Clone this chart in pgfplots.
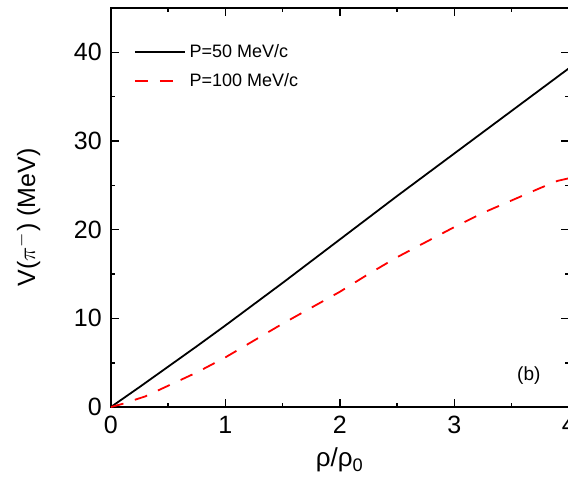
\documentclass[border=0pt]{standalone}
\usepackage{fontspec}
\setmainfont{Liberation Sans}
\usepackage{pgfplots}
\pgfplotsset{compat=1.18}
\begin{document}
\begin{tikzpicture}
\begin{axis}[
  scale only axis,
  width=229pt, height=199.5pt,
  xmin=0, xmax=4, ymin=0, ymax=45,
  xtick={0,1,2,3,4}, ytick={0,10,20,30,40},
  minor x tick num=1, minor y tick num=1,
  tick align=inside,
  major tick length=4pt, minor tick length=2pt,
  axis line style={line width=1pt},
  every tick/.style={line width=0.8pt, black},
  /pgf/number format/assume math mode=true,
  ticklabel style={font=\fontsize{12.5}{14}\selectfont},
  xticklabel style={yshift=-1pt},
  yticklabel style={xshift=-1pt},
  xlabel={ρ/ρ\textsubscript{0}},
  ylabel={V($\pi^{-}$) (MeV)},
  xlabel style={font=\fontsize{13}{15}\selectfont, at={(rel axis cs:0.5,-0.133)}, anchor=center},
  ylabel style={font=\fontsize{12.5}{15}\selectfont, at={(rel axis cs:-0.181,0.475)}, anchor=center},
  legend style={at={(rel axis cs:0.045,0.925)}, anchor=north west, draw=none, fill=none,
    font=\fontsize{9}{10.5}\selectfont, row sep=2.5pt, inner sep=1pt},
  legend cell align=left,
  legend image code/.code={\draw[#1] (0pt,0pt) -- (25pt,0pt);},
  clip=true,
]
\addplot[black, line width=0.9pt] coordinates {
(0,0) (0.25,2.25) (0.5,4.55) (0.75,6.85) (1,9.2) (1.5,14.0) (2,18.9) (2.5,23.8) (3,28.6) (3.5,33.4) (4,38.2)
};
\addlegendentry{P=50 MeV/c}
\addplot[red, line width=0.9pt, dash pattern=on 6.5pt off 6pt] coordinates {
(0,0) (0.1,0.35) (0.3,1.2) (0.5,2.4) (0.75,3.9) (1,5.6) (1.25,7.5) (1.5,9.4) (1.75,11.2) (2,13.0) (2.25,15.0) (2.5,16.9) (2.75,18.6) (3,20.3) (3.25,21.9) (3.5,23.3) (3.75,24.7) (3.9,25.5) (4,25.8)
};
\addlegendentry{P=100 MeV/c}
\node[font=\fontsize{9.5}{11}\selectfont] at (axis cs:3.65,3.5) {(b)};
\coordinate (bbSW) at (rel axis cs:-0.242,-0.178);
\coordinate (bbNE) at (rel axis cs:0.998,1.020);
\end{axis}
\pgfresetboundingbox
\path[use as bounding box] (bbSW) rectangle (bbNE);
\end{tikzpicture}
\end{document}
